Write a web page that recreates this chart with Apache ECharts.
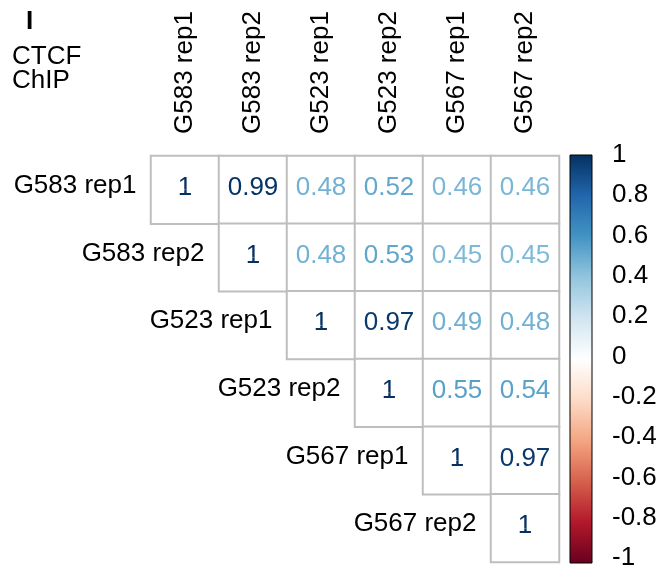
<!DOCTYPE html>
<html>
<head>
<meta charset="utf-8">
<script src="https://cdn.jsdelivr.net/npm/echarts@6/dist/echarts.min.js"></script>
<style>
  html, body { margin: 0; padding: 0; background: #fff; }
  #chart { width: 661px; height: 571px; }
</style>
</head>
<body>
<div id="chart"></div>
<script>
// Samples (rows and columns of the correlation matrix)
const samples = ['G583 rep1', 'G583 rep2', 'G523 rep1', 'G523 rep2', 'G567 rep1', 'G567 rep2'];

// Upper triangle of the Pearson correlation matrix, one array per row,
// starting at the diagonal.
const rowG583rep1 = [1, 0.99, 0.48, 0.52, 0.46, 0.46];
const rowG583rep2 = [1, 0.48, 0.53, 0.45, 0.45];
const rowG523rep1 = [1, 0.97, 0.49, 0.48];
const rowG523rep2 = [1, 0.55, 0.54];
const rowG567rep1 = [1, 0.97];
const rowG567rep2 = [1];
const upperRows = [rowG583rep1, rowG583rep2, rowG523rep1, rowG523rep2, rowG567rep1, rowG567rep2];

// Colour legend ticks
const legendMin = -1;
const legendMax = 1;
const legendStep = 0.2;

// Diverging red-blue palette, from -1 to 1
const palette = ['#67001F', '#B2182B', '#D6604D', '#F4A582', '#FDDBC7', '#FFFFFF',
                 '#D1E5F0', '#92C5DE', '#4393C3', '#2166AC', '#053061'];

function hexToRgb(h) {
  return [parseInt(h.slice(1, 3), 16), parseInt(h.slice(3, 5), 16), parseInt(h.slice(5, 7), 16)];
}
function colorFor(v) {
  const t = (v - legendMin) / (legendMax - legendMin) * (palette.length - 1);
  const i = Math.min(Math.floor(t), palette.length - 2);
  const f = t - i;
  const a = hexToRgb(palette[i]), b = hexToRgb(palette[i + 1]);
  const c = a.map((x, k) => Math.round(x + (b[k] - x) * f));
  return 'rgb(' + c.join(',') + ')';
}

const FONT = '"Liberation Sans", Arial, Helvetica, sans-serif';

// Layout
const cell = { left: 151, top: 156, width: 408, height: 406 };
const bar = { left: 570, top: 155, width: 22, height: 408 };

const cellData = [];
upperRows.forEach((row, r) => {
  row.forEach((v, k) => {
    const c = r + k;
    cellData.push({
      value: [c, r, v],
      label: { color: colorFor(v) }
    });
  });
});

const diagonal = samples.map((s, i) => [i, i]);

const stops = palette.slice().reverse().map((col, i) => ({ offset: i / (palette.length - 1), color: col }));

const chart = echarts.init(document.getElementById('chart'), null, { renderer: 'canvas' });
chart.setOption({
  animation: false,
  backgroundColor: '#fff',
  textStyle: { fontFamily: FONT, color: '#000' },
  grid: [
    { left: cell.left, top: cell.top, width: cell.width, height: cell.height, containLabel: false },
    { left: bar.left, top: bar.top, width: bar.width, height: bar.height, containLabel: false }
  ],
  xAxis: [
    {
      type: 'category', gridIndex: 0, data: samples, position: 'top',
      axisLine: { show: false }, axisTick: { show: false }, splitLine: { show: false },
      axisLabel: { rotate: -90, margin: 22, fontSize: 26, color: '#000', fontFamily: FONT }
    },
    { type: 'value', gridIndex: 1, show: false, min: 0, max: 1 }
  ],
  yAxis: [
    {
      type: 'category', gridIndex: 0, data: samples, inverse: true,
      axisLine: { show: false }, axisTick: { show: false }, axisLabel: { show: false }, splitLine: { show: false }
    },
    {
      type: 'value', gridIndex: 1, position: 'right', min: legendMin, max: legendMax, interval: legendStep,
      axisLine: { show: false }, splitLine: { show: false },
      axisTick: { show: true, inside: false, length: 5, lineStyle: { color: '#000', width: 1 } },
      axisLabel: {
        margin: 20, fontSize: 26, color: '#000', fontFamily: FONT,
        formatter: v => String(parseFloat(v.toFixed(1)))
      }
    }
  ],
  series: [
    {
      type: 'heatmap', xAxisIndex: 0, yAxisIndex: 0, data: cellData,
      itemStyle: { color: '#fff', borderColor: '#BEBEBE', borderWidth: 2 },
      label: {
        show: true, fontSize: 26, fontFamily: FONT, offset: [0, -2],
        formatter: p => String(p.value[2])
      },
      emphasis: { disabled: true }
    },
    {
      type: 'scatter', xAxisIndex: 0, yAxisIndex: 0, data: diagonal,
      symbolSize: 1, itemStyle: { color: '#fff', opacity: 1 },
      label: {
        show: true, position: 'left', distance: 48, offset: [0, -4],
        fontSize: 26, color: '#000', opacity: 1, fontFamily: FONT,
        formatter: p => samples[p.value[1]]
      },
      emphasis: { disabled: true }
    }
  ],
  graphic: [
    {
      type: 'rect', z: 10,
      shape: { x: bar.left, y: bar.top, width: bar.width, height: bar.height },
      style: {
        fill: { type: 'linear', x: 0, y: 0, x2: 0, y2: 1, colorStops: stops },
        stroke: '#000', lineWidth: 1
      }
    },
    {
      type: 'text', left: 26, top: 9,
      style: { text: 'I', font: 'bold 26px ' + FONT, fill: '#000' }
    },
    {
      type: 'text', left: 12, top: 44,
      style: { text: 'CTCF\nChIP', font: '26px ' + FONT, lineHeight: 24, fill: '#000' }
    }
  ]
});
</script>
</body>
</html>
